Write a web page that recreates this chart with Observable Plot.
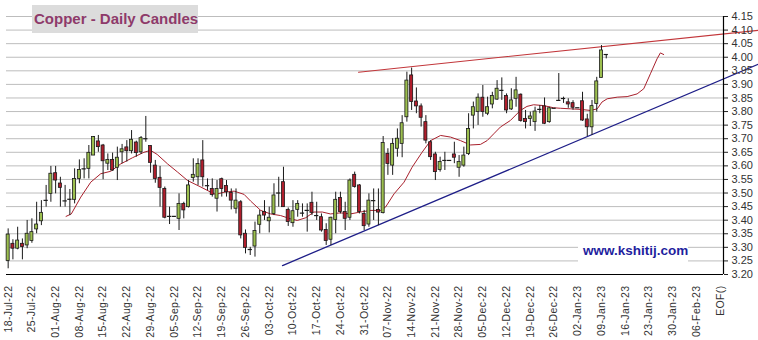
<!DOCTYPE html>
<html><head><meta charset="utf-8">
<script src="https://cdn.jsdelivr.net/npm/d3@7"></script>
<script src="https://cdn.jsdelivr.net/npm/@observablehq/plot@0.6"></script>
<style>
body{margin:0;background:#fff;}
#wrap{position:relative;width:758px;height:340px;overflow:hidden;font-family:"Liberation Sans",Arial,sans-serif;}
#title{position:absolute;left:32px;top:5px;width:166px;height:28px;background:#dcdcdc;color:#8e3a6a;font-weight:bold;font-size:15px;line-height:28px;padding-left:2px;box-sizing:border-box;white-space:nowrap;}
#site{position:absolute;left:578px;top:240px;width:110px;height:22px;box-sizing:border-box;padding-left:5px;background:#fff;color:#1e1e9e;font-weight:bold;font-size:13.5px;line-height:22px;white-space:nowrap;}
</style></head>
<body><div id="wrap"><div id="chart"></div><div id="title">Copper - Daily Candles</div><div id="site">www.kshitij.com</div></div>
<script>
const tickLabels = ["18-Jul-22","25-Jul-22","01-Aug-22","08-Aug-22","15-Aug-22","22-Aug-22","29-Aug-22","05-Sep-22","12-Sep-22","19-Sep-22","26-Sep-22","03-Oct-22","10-Oct-22","17-Oct-22","24-Oct-22","31-Oct-22","07-Nov-22","14-Nov-22","21-Nov-22","28-Nov-22","05-Dec-22","12-Dec-22","19-Dec-22","26-Dec-22","02-Jan-23","09-Jan-23","16-Jan-23","23-Jan-23","30-Jan-23","06-Feb-23","EOF()"];
const yTicks = [3.20,3.25,3.30,3.35,3.40,3.45,3.50,3.55,3.60,3.65,3.70,3.75,3.80,3.85,3.90,3.95,4.00,4.05,4.10,4.15];

const open = [3.250,3.313,3.295,3.313,3.307,3.323,3.366,3.396,3.473,3.497,
3.573,3.535,3.471,3.477,3.475,3.552,3.589,3.589,3.638,3.690,
3.675,3.608,3.622,3.593,3.650,3.668,3.654,3.686,3.650,3.700,
3.673,3.601,3.556,3.515,3.414,3.414,3.405,3.460,3.448,3.555,
3.558,3.620,3.527,3.515,3.479,3.551,3.526,3.500,3.442,3.466,
3.350,3.292,3.303,3.383,3.430,3.396,3.423,3.500,3.540,3.438,
3.389,3.438,3.426,3.436,3.464,3.417,3.411,3.364,3.328,3.401,
3.482,3.430,3.409,3.567,3.528,3.423,3.384,3.472,3.438,3.426,
3.644,3.601,3.663,3.681,3.779,3.933,3.837,3.819,3.761,3.687,
3.642,3.585,3.620,3.620,3.642,3.593,3.601,3.644,3.785,3.798,
3.851,3.792,3.826,3.844,3.878,3.857,3.808,3.847,3.862,3.773,
3.773,3.761,3.808,3.819,3.761,3.812,3.841,3.845,3.834,3.831,
3.814,3.838,3.771,3.742,3.828,3.924,4.010];
const high = [3.368,3.328,3.374,3.331,3.399,3.405,3.466,3.472,3.528,3.598,
3.598,3.558,3.528,3.513,3.589,3.622,3.626,3.675,3.708,3.712,
3.679,3.644,3.647,3.669,3.679,3.693,3.730,3.691,3.708,3.782,
3.673,3.620,3.598,3.522,3.448,3.414,3.497,3.466,3.546,3.626,
3.626,3.693,3.552,3.552,3.546,3.555,3.546,3.515,3.515,3.472,
3.364,3.300,3.393,3.436,3.472,3.448,3.534,3.558,3.595,3.445,
3.472,3.472,3.460,3.460,3.503,3.466,3.423,3.387,3.411,3.503,
3.503,3.466,3.552,3.577,3.531,3.436,3.497,3.515,3.515,3.708,
3.663,3.700,3.736,3.785,3.945,3.960,3.887,3.828,3.785,3.693,
3.650,3.632,3.650,3.620,3.687,3.638,3.669,3.792,3.835,3.865,
3.896,3.853,3.871,3.914,3.924,3.865,3.884,3.926,3.865,3.804,
3.798,3.816,3.822,3.850,3.816,3.812,3.940,3.853,3.847,3.840,
3.814,3.871,3.790,3.841,3.926,4.043,4.010];
const low = [3.221,3.254,3.291,3.254,3.295,3.315,3.350,3.380,3.448,3.466,
3.497,3.448,3.448,3.417,3.460,3.534,3.552,3.552,3.638,3.650,
3.549,3.583,3.580,3.546,3.608,3.614,3.644,3.632,3.642,3.687,
3.573,3.536,3.448,3.405,3.384,3.414,3.362,3.405,3.445,3.540,
3.528,3.522,3.509,3.485,3.430,3.485,3.485,3.438,3.423,3.331,
3.276,3.270,3.264,3.350,3.399,3.353,3.417,3.448,3.448,3.377,
3.374,3.411,3.411,3.356,3.417,3.399,3.356,3.307,3.307,3.350,
3.423,3.362,3.399,3.518,3.423,3.362,3.374,3.399,3.380,3.423,
3.565,3.565,3.632,3.630,3.761,3.804,3.792,3.743,3.681,3.620,
3.546,3.577,3.583,3.620,3.608,3.558,3.595,3.638,3.736,3.749,
3.779,3.785,3.810,3.841,3.841,3.792,3.804,3.816,3.761,3.736,
3.745,3.727,3.792,3.752,3.757,3.812,3.837,3.830,3.812,3.805,
3.814,3.764,3.708,3.712,3.798,3.924,3.994];
const close = [3.347,3.295,3.325,3.301,3.350,3.356,3.384,3.427,3.473,3.571,
3.546,3.519,3.471,3.477,3.552,3.585,3.589,3.648,3.706,3.669,
3.617,3.622,3.583,3.630,3.661,3.654,3.696,3.647,3.702,3.700,
3.611,3.552,3.519,3.409,3.414,3.414,3.460,3.436,3.528,3.567,
3.607,3.558,3.527,3.493,3.515,3.515,3.503,3.472,3.472,3.344,
3.298,3.292,3.360,3.417,3.417,3.409,3.491,3.500,3.448,3.393,
3.433,3.460,3.426,3.436,3.427,3.417,3.362,3.323,3.409,3.475,
3.430,3.405,3.546,3.522,3.430,3.378,3.472,3.472,3.428,3.684,
3.607,3.681,3.700,3.757,3.914,3.835,3.819,3.777,3.693,3.632,
3.577,3.614,3.620,3.620,3.630,3.614,3.638,3.736,3.816,3.851,
3.798,3.816,3.857,3.884,3.878,3.804,3.841,3.878,3.765,3.761,
3.782,3.800,3.808,3.755,3.812,3.812,3.841,3.848,3.826,3.814,
3.814,3.767,3.742,3.820,3.911,4.025,4.010];

const maBar = [12.2,13.3,15.3,17.4,19.5,21.6,23.7,26.2,28.6,30.0,31.4,33.6,35.7,37.8,40.6,42.7,43.7,45.5,47.6,49.7,51.1,53.2,55.3,57.4,59.5,60.9,62.7,64.4,66.2,67.9,70.0,72.1,74.2,76.4,78.5,79.5,81.3,83.4,85.1,87.2,89.0,91.1,93.2,95.3,97.4,99.5,100.9,102.3,103.7,105.8,107.9,109.3,110.7,112.8,114.9,116.4,118.5,120.6,122.7,124.1,125.1,126.2,128.3,130.4,132.5,133.9,135.3,136.7,137.4,138.1];
const maValue = [3.414,3.423,3.485,3.540,3.571,3.580,3.607,3.630,3.650,3.657,3.642,3.607,3.577,3.546,3.522,3.503,3.495,3.503,3.507,3.495,3.470,3.436,3.423,3.417,3.405,3.399,3.409,3.430,3.430,3.423,3.427,3.423,3.430,3.436,3.436,3.448,3.497,3.540,3.595,3.650,3.693,3.712,3.706,3.693,3.677,3.679,3.693,3.718,3.743,3.767,3.804,3.819,3.825,3.822,3.814,3.812,3.810,3.808,3.804,3.810,3.835,3.847,3.853,3.855,3.865,3.884,3.939,3.994,4.016,4.010];

const resistanceBar = [73.8, 158];
const resistanceValue = [3.945, 4.099];
const supportBar = [57.8, 158];
const supportValue = [3.233, 3.974];

const GREEN = "#9cbf4f", RED = "#b01e2c", OUTLINE = "#1a1a1a";
const xDomain = [-0.35, 150.7];

const candles = open.map((o, i) => ({i, o, h: high[i], l: low[i], c: close[i]}));
const bodies = candles.filter(d => Math.abs(d.o - d.c) >= 0.003);
const flats = candles.filter(d => Math.abs(d.o - d.c) < 0.003);
const ma = maBar.map((b, k) => ({b, v: maValue[k]}));
const res = resistanceBar.map((b, k) => ({b, v: resistanceValue[k]}));
const sup = supportBar.map((b, k) => ({b, v: supportValue[k]}));
const xTicks = tickLabels.map((_, k) => k * 5);

const chart = Plot.plot({
  width: 758, height: 340,
  marginLeft: 6, marginRight: 35, marginTop: 16, marginBottom: 66,
  style: {fontFamily: "'Liberation Sans', Arial, sans-serif", background: "#fff", color: "#222"},
  x: {type: "linear", domain: xDomain, axis: null},
  y: {domain: [yTicks[0], yTicks[yTicks.length - 1]], axis: null},
  marks: [
    Plot.gridY(yTicks, {stroke: "#bdbdbd", strokeOpacity: 1}),
    Plot.line(sup, {x: "b", y: "v", stroke: "#1e1e88", strokeWidth: 1.3}),
    Plot.line(res, {x: "b", y: "v", stroke: "#c2363a", strokeWidth: 1.1}),
    Plot.line(ma, {x: "b", y: "v", stroke: "#a8202c", strokeWidth: 1}),
    Plot.ruleX(candles, {x: "i", y1: "l", y2: "h", stroke: OUTLINE, strokeWidth: 1}),
    Plot.rect(bodies, {x1: d => d.i - 0.32, x2: d => d.i + 0.32, y1: "o", y2: "c",
      fill: d => d.c >= d.o ? GREEN : RED, stroke: OUTLINE, strokeWidth: 0.8}),
    Plot.ruleY(flats, {y: "c", x1: d => d.i - 0.45, x2: d => d.i + 0.45, stroke: OUTLINE, strokeWidth: 1.2}),
    Plot.ruleY([yTicks[0]], {stroke: "#000", strokeWidth: 1.2}),
    Plot.ruleX([xDomain[1]], {stroke: "#000", strokeWidth: 1.2}),
    Plot.axisX(xTicks, {anchor: "bottom", tickFormat: v => tickLabels[v / 5], tickRotate: -90, tickSize: 0, tickPadding: 11,
      fontSize: 10.5, fill: "#333", stroke: null}),
    Plot.axisY(yTicks, {anchor: "right", tickFormat: v => v.toFixed(2), tickSize: 4, tickPadding: 4, fontSize: 11, fill: "#333"})
  ]
});
d3.select(chart).selectAll('g[aria-label="x-axis tick label"] text').attr("letter-spacing", "0.35");
document.getElementById("chart").appendChild(chart);
</script>
</body></html>
